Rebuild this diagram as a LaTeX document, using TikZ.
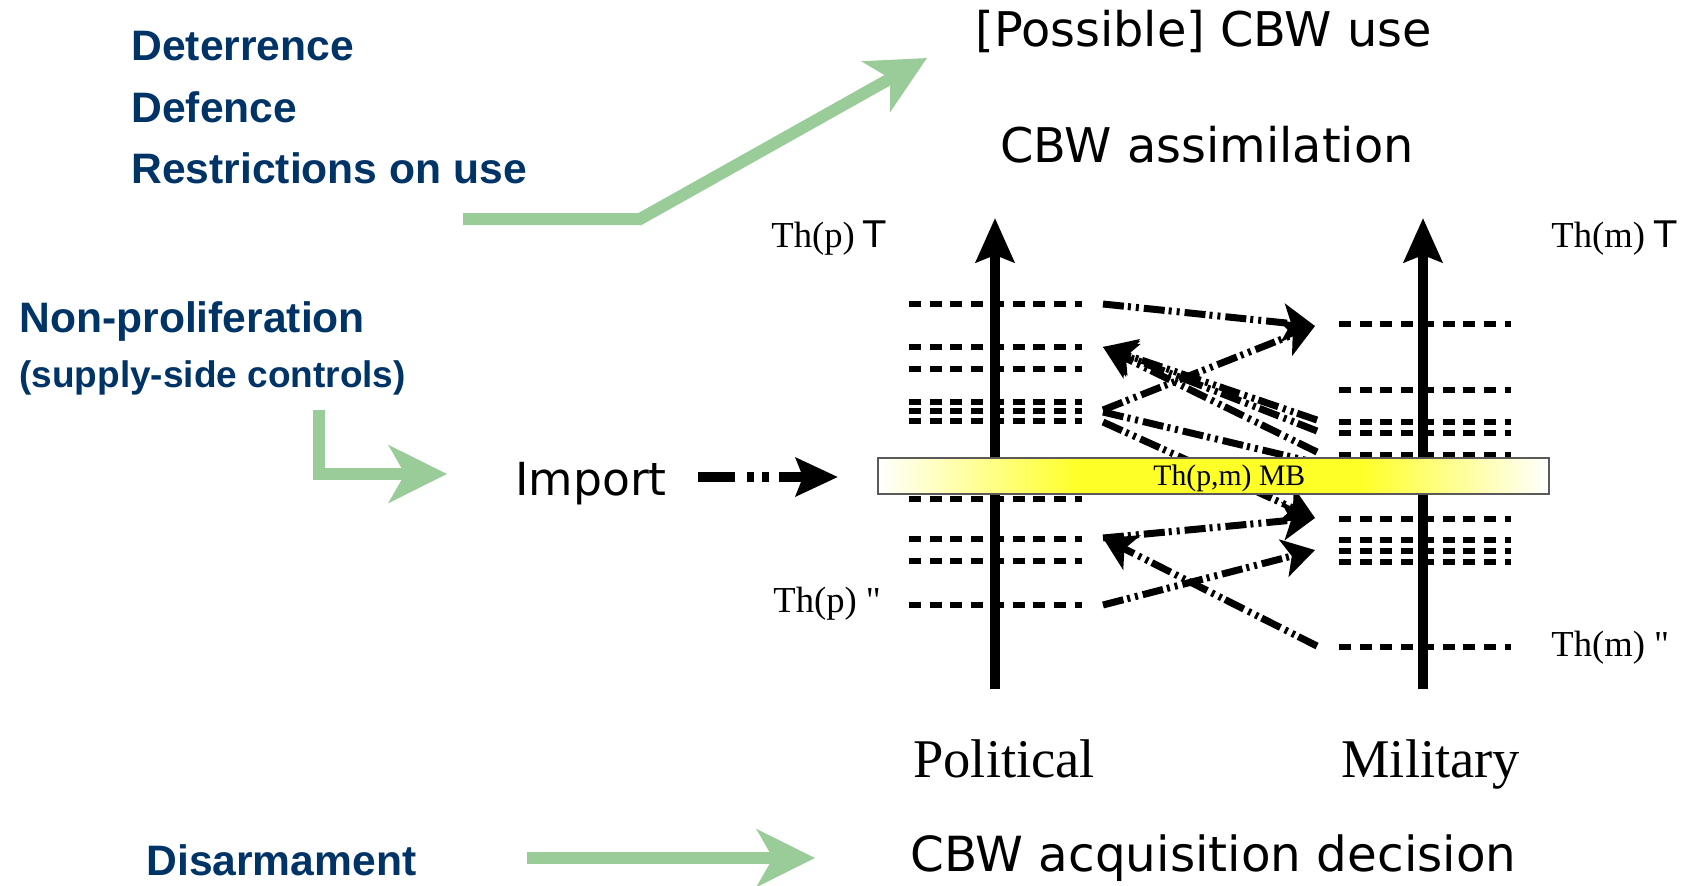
\documentclass[tikz,border=0pt]{standalone}
\usepackage{fontspec}
\setmainfont{Liberation Serif}
\newfontfamily\plainserif{Liberation Serif}[Ligatures=TeXOff]
\newfontfamily\dejavu{DejaVu Sans}
\newfontfamily\labelfont{Liberation Sans}
\usetikzlibrary{arrows.meta}

\definecolor{navy}{RGB}{0,51,102}
\definecolor{grn}{RGB}{153,204,153}
\definecolor{barylw}{RGB}{255,255,40}
\definecolor{baredge}{RGB}{90,90,90}

% white -> yellow -> white band for the threshold bar
\pgfdeclarehorizontalshading{mbband}{100bp}{%
  color(0bp)=(white); color(25bp)=(white); color(40bp)=(barylw);
  color(61bp)=(barylw); color(75bp)=(white); color(100bp)=(white)}

\tikzset{
  sanslbl/.style={inner sep=0pt, anchor=base west,
    font=\dejavu\fontsize{23.9pt}{28pt}\selectfont},
  bluelbl/.style={inner sep=0pt, anchor=base west, text=navy,
    font=\labelfont\bfseries\fontsize{21.3pt}{25pt}\selectfont},
  bluesmall/.style={bluelbl, font=\labelfont\bfseries\fontsize{18.5pt}{22pt}\selectfont},
  thlbl/.style={inner sep=0pt, anchor=base west,
    font=\plainserif\fontsize{18.3pt}{22pt}\selectfont},
  sidelbl/.style={inner sep=0pt, anchor=base west,
    font=\fontsize{27.25pt}{32pt}\selectfont},
  mblbl/.style={inner sep=0pt, anchor=base west,
    font=\fontsize{14.85pt}{18pt}\selectfont},
  axisline/.style={line width=5pt, -{Stealth[length=22pt,width=19pt,inset=3.5pt]}},
  lvlrow/.style={line width=3pt, dash pattern=on 6pt off 4.35pt},
  shiftarrow/.style={line width=3.5pt,
    dash pattern=on 10.5pt off 2pt on 1.5pt off 2.5pt on 1.5pt off 2.5pt,
    -{Stealth[length=16pt,width=19pt,inset=4pt]}},
  shiftline/.style={line width=3.5pt,
    dash pattern=on 10.5pt off 2pt on 1.5pt off 2.5pt on 1.5pt off 2.5pt},
  importarrow/.style={line width=5pt,
    dash pattern=on 18.5pt off 6pt on 3.5pt off 4pt on 3.5pt off 5pt,
    -{Stealth[length=21pt,width=19pt,inset=3.5pt]}},
  greenarrow/.style={draw=grn, line width=6pt, line join=miter,
    -{Stealth[length=29pt,width=28.5pt,inset=8pt]}},
}

\begin{document}
\begin{tikzpicture}[x=0.5pt,y=-0.5pt]
\useasboundingbox (0,0) rectangle (1689,885);

% ---- policy labels (left column)
\node[bluelbl] (deter) at (131,60) {Deterrence};
\node[bluelbl] (defence) at (131,122) {Defence};
\node[bluelbl] (restr) at (131,183) {Restrictions on use};
\node[bluelbl] (nonprolif) at (19,332) {Non-proliferation};
\node[bluesmall] (supply) at (19,387) {(supply-side controls)};
\node[bluelbl] (disarm) at (146,875) {Disarmament};

% ---- stage labels
\node[sanslbl] (use) at (975,46) {[Possible] CBW use};
\node[sanslbl] (assim) at (1000,162) {CBW assimilation};
\node[sanslbl, font=\dejavu\fontsize{22.8pt}{27pt}\selectfont] (imp) at (515,495) {Import};
\node[sanslbl, font=\dejavu\fontsize{24.2pt}{28pt}\selectfont] (acq) at (910,871) {CBW acquisition decision};

% ---- axis labels
\node[sidelbl] (pol) at (913,777) {Political};
\node[sidelbl] (mil) at (1341,777) {Military};
\node[thlbl] (thpT) at (771,247) {Th(p) {\dejavu T}};
\node[thlbl] (thmT) at (1551,247) {Th(m) {\dejavu T}};
\node[thlbl] (thpq) at (773,612) {Th(p) "};
\node[thlbl] (thmq) at (1551,656) {Th(m) "};

% ---- threshold levels
\foreach \yy in {304,347,369,402,411,421,499,539,561,605}
  \draw[lvlrow] (909,\yy) -- (1082,\yy);
\foreach \yy in {324,390,422,433,455,519,540,551,562,647}
  \draw[lvlrow] (1339,\yy) -- (1511,\yy);

% ---- political and military axes
\coordinate (pbot) at (995,689);  \coordinate (ptop) at (995,218);
\coordinate (mbot) at (1423,689); \coordinate (mtop) at (1423,218);
\draw[axisline] (pbot) -- (ptop);
\draw[axisline] (mbot) -- (mtop);

% ---- shifts between political and military thresholds
\coordinate (pA) at (1103,304);
\coordinate (pB) at (1103,410);
\coordinate (pC) at (1103,347);
\coordinate (pD) at (1103,412);
\coordinate (pE) at (1103,422);
\coordinate (pF) at (1103,538);
\coordinate (pG) at (1103,605);
\coordinate (mA) at (1315,326);
\coordinate (mB) at (1317,420);
\coordinate (mC) at (1317,431);
\coordinate (mD) at (1317,452);
\coordinate (mE) at (1317,463);
\coordinate (mF) at (1315,518);
\coordinate (mG) at (1317,646);
\coordinate (mH) at (1315,550);

\draw[shiftarrow] (pA) -- (mA);
\draw[shiftarrow] (pB) -- (mA);
\draw[shiftarrow] (mB) -- (pC);
\draw[shiftarrow] (mC) -- (pC);
\draw[shiftarrow] (mD) -- (pC);
\draw[shiftline]  (pD) -- (mE);
\draw[shiftarrow] (pE) -- (mF);
\draw[shiftarrow] (pF) -- (mF);
\draw[shiftarrow] (mG) -- (pF);
\draw[shiftarrow] (pG) -- (mH);

% ---- import
\coordinate (impS) at (698,477);
\coordinate (impT) at (838,477);
\draw[importarrow] (impS) -- (impT);

% ---- threshold bar
\path[shading=mbband, draw=baredge, line width=0.75pt]
  (878,458) rectangle (1549,494);
\node[mblbl] (mb) at (1153,485) {Th(p,m) MB};

% ---- policy arrows
\coordinate (g1s) at (463,219);
\coordinate (g1k) at (640,219);
\coordinate (g1t) at (927,58);
\draw[greenarrow] (g1s) -- (g1k) -- (g1t);

\coordinate (g2s) at (319,410);
\coordinate (g2k) at (319,474);
\coordinate (g2t) at (447,474);
\draw[greenarrow] (g2s) -- (g2k) -- (g2t);

\coordinate (g3s) at (527,858);
\coordinate (g3t) at (815,858);
\draw[greenarrow] (g3s) -- (g3t);
\end{tikzpicture}
\end{document}
